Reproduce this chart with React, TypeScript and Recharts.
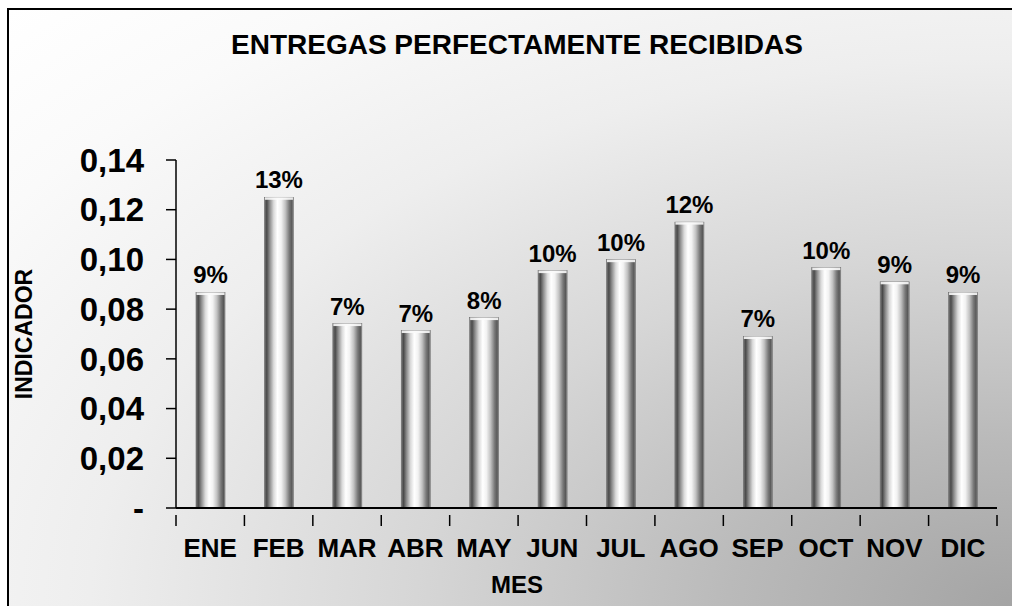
import React from 'react';
import { BarChart, Bar, XAxis, YAxis, LabelList, Label } from 'recharts';

const months = ['ENE', 'FEB', 'MAR', 'ABR', 'MAY', 'JUN', 'JUL', 'AGO', 'SEP', 'OCT', 'NOV', 'DIC'];
const indicador = [0.0867, 0.125, 0.0742, 0.0714, 0.0766, 0.0955, 0.0999, 0.115, 0.069, 0.0967, 0.091, 0.0867];
const yTicks = [0, 0.02, 0.04, 0.06, 0.08, 0.1, 0.12, 0.14];

const data = months.map((m, i) => ({ mes: m, valor: indicador[i] }));

const W = 1012;
const H = 606;
const M = { top: 160, right: 15, bottom: 0, left: 0 };
const Y_W = 176;
const X_H = 98;
const PLOT_W = W - M.left - M.right - Y_W;
const BAND = PLOT_W / months.length;
const FONT = '"Liberation Sans", Arial, sans-serif';

const XTick = (props: any) => {
  const { x, y, payload, index } = props;
  const left = x - BAND / 2;
  const right = x + BAND / 2;
  return (
    <g>
      <line x1={left} y1={y - 1} x2={left} y2={y + 10} stroke="#000" strokeWidth={1.5} />
      {index === months.length - 1 && (
        <line x1={right} y1={y - 1} x2={right} y2={y + 10} stroke="#000" strokeWidth={1.5} />
      )}
      <text x={x} y={y + 41} textAnchor="middle" fontFamily={FONT} fontWeight="bold" fontSize={26} fill="#000">
        {payload.value}
      </text>
    </g>
  );
};

const CylBar = (props: any) => {
  const { x, y, width, height } = props;
  if (!height || height <= 0) return null;
  return (
    <g>
      <rect x={x} y={y} width={width} height={height} fill="url(#cyl)" stroke="#6a6a6a" strokeWidth={0.6} />
      <rect x={x + 0.5} y={y} width={width - 1} height={2.5} fill="#fafafa" opacity={0.9} />
    </g>
  );
};

export default function App() {
  return (
    <>
      <style>{`html,body{margin:0;padding:0;overflow:hidden;background:#fff} *,*:focus{outline:none !important}`}</style>
      <div style={{ position: 'relative', width: W, height: H, overflow: 'hidden', background: '#fff' }}>
        <div
          style={{
            position: 'absolute',
            left: 9,
            top: 10,
            width: W - 9,
            height: H - 10,
            background:
              'radial-gradient(ellipse farthest-corner at 100% 100%, #a4a4a4 0%, #bababa 20%, #d6d6d6 42%, #eeeeee 65%, #fafafa 85%, #ffffff 100%)',
          }}
        />
        <div style={{ position: 'absolute', left: 7, top: 8, width: W - 7, height: 2, background: '#000' }} />
        <div style={{ position: 'absolute', left: 7, top: 8, width: 2, height: H - 8, background: '#000' }} />
        <div
          style={{
            position: 'absolute',
            left: 0,
            top: 27,
            width: 1034,
            textAlign: 'center',
            fontFamily: FONT,
            fontWeight: 'bold',
            fontSize: 28,
            lineHeight: '36px',
            color: '#000',
          }}
        >
          ENTREGAS PERFECTAMENTE RECIBIDAS
        </div>
        <div
          style={{
            position: 'absolute',
            left: 0,
            top: 570,
            width: 1034,
            textAlign: 'center',
            fontFamily: FONT,
            fontWeight: 'bold',
            fontSize: 24,
            lineHeight: '30px',
            color: '#000',
          }}
        >
          MES
        </div>
        <div style={{ position: 'absolute', left: 0, top: 0 }}>
          <BarChart width={W} height={H} data={data} margin={M} barSize={29} accessibilityLayer={false}>
            <defs>
              <linearGradient id="cyl" x1="0" y1="0" x2="1" y2="0">
                <stop offset="0%" stopColor="#7a7a7a" />
                <stop offset="8%" stopColor="#4a4a4a" />
                <stop offset="18%" stopColor="#8a8a8a" />
                <stop offset="32%" stopColor="#dadada" />
                <stop offset="45%" stopColor="#ffffff" />
                <stop offset="58%" stopColor="#f2f2f2" />
                <stop offset="72%" stopColor="#c2c2c2" />
                <stop offset="86%" stopColor="#787878" />
                <stop offset="95%" stopColor="#585858" />
                <stop offset="100%" stopColor="#9a9a9a" />
              </linearGradient>
            </defs>
            <XAxis
              dataKey="mes"
              height={X_H}
              axisLine={{ stroke: '#000', strokeWidth: 2 }}
              tickLine={false}
              tick={<XTick />}
              interval={0}
            />
            <YAxis
              width={Y_W}
              domain={[0, 0.14]}
              ticks={yTicks}
              interval={0}
              axisLine={{ stroke: '#000', strokeWidth: 1.5 }}
              tickLine={{ stroke: '#000', strokeWidth: 1.5 }}
              tickSize={10}
              tickMargin={22}
              tick={{ fontFamily: FONT, fontWeight: 'bold', fontSize: 33, fill: '#000' }}
              tickFormatter={(v: number) => (v === 0 ? '-' : v.toFixed(2).replace('.', ','))}
            >
              <Label
                value="INDICADOR"
                angle={-90}
                position="insideLeft"
                offset={24}
                fontFamily={FONT}
                fontWeight="bold"
                fontSize={23}
                fill="#000"
                style={{ textAnchor: 'middle' }}
              />
            </YAxis>
            <Bar dataKey="valor" shape={<CylBar />} isAnimationActive={false}>
              <LabelList
                dataKey="valor"
                position="top"
                offset={9}
                formatter={(v: any) => `${Math.round(Number(v) * 100)}%`}
                fontFamily={FONT}
                fontWeight="bold"
                fontSize={24}
                fill="#000"
              />
            </Bar>
          </BarChart>
        </div>
      </div>
    </>
  );
}
